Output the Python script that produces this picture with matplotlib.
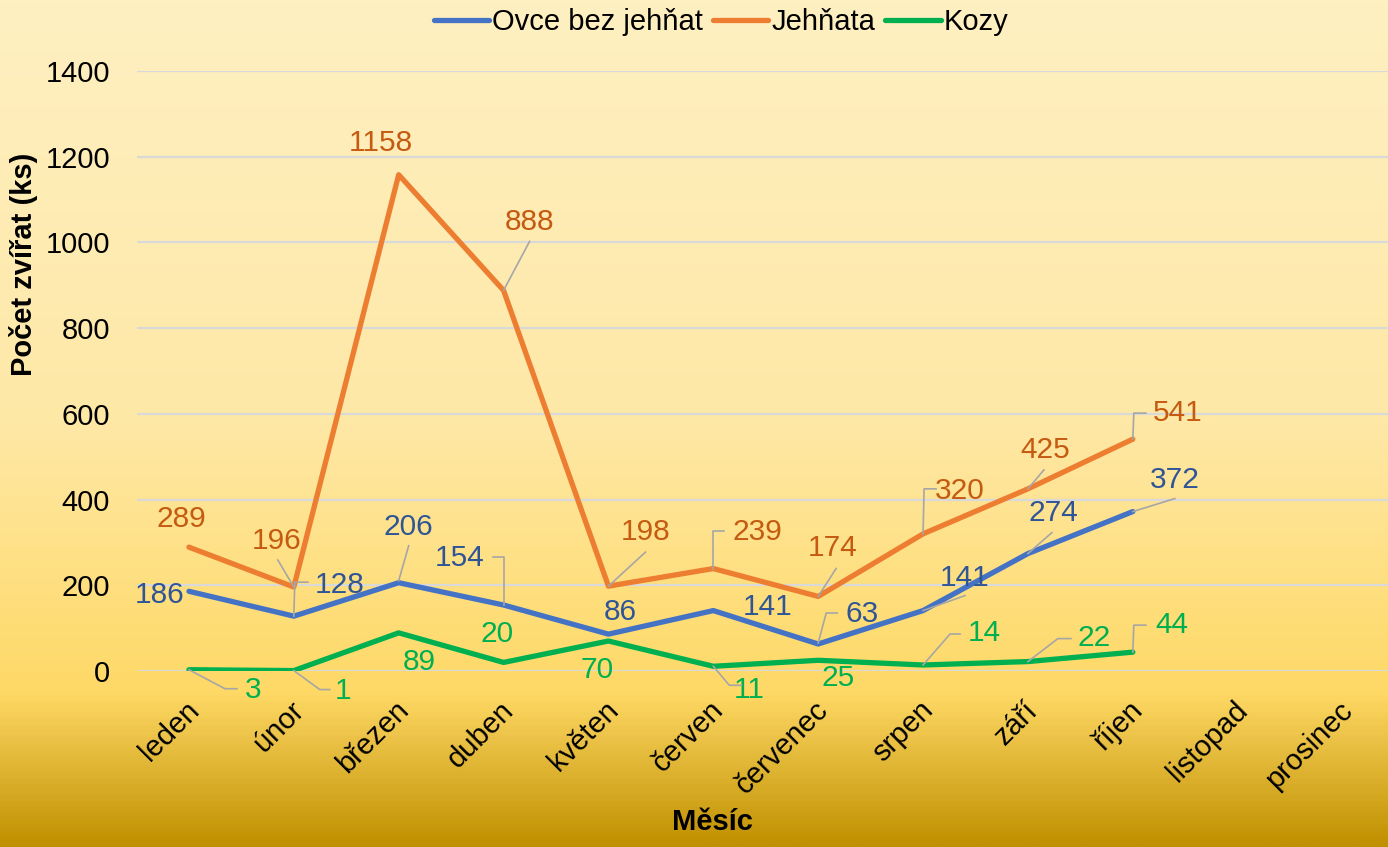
import numpy as np
import matplotlib.pyplot as plt
from matplotlib.colors import LinearSegmentedColormap
from matplotlib.lines import Line2D
from matplotlib.transforms import IdentityTransform, ScaledTranslation

plt.rcParams['font.family'] = ['Liberation Sans', 'DejaVu Sans']

# --- data ---
mesice = ["leden", "únor", "březen", "duben", "květen", "červen",
          "červenec", "srpen", "září", "říjen", "listopad", "prosinec"]
ovce = [186, 128, 206, 154, 86, 141, 63, 141, 274, 372]
jehnata = [289, 196, 1158, 888, 198, 239, 174, 320, 425, 541]
kozy = [3, 1, 89, 20, 70, 11, 25, 14, 22, 44]

# label placement (pixel offsets from the point, image y downward)
ovce_lbl = [(-29, 4), (46, -31), (10, -56), (-44, -47), (12, -22),
            (54, -4), (44, -30), (42, -33), (25, -41), (42, -32)]
ovce_lead = [None, [(0, 0), (1, -34), (14, -34)], [(0, -2), (10, -37)],
             [(0, 0), (0, -48), (-11, -48)], None, None,
             [(0, -1), (8, -31), (19, -31)], [(0, 0), (42, -15)],
             [(0, 0), (24, -21)], [(0, 0), (42, -13)]]
jeh_lbl = [(-8, -28), (-17, -46), (-18, -32), (26, -68), (37, -54),
           (44, -37), (14, -48), (37, -43), (17, -39), (45, -26)]
jeh_lead = [None, [(0, 0), (-16, -27)], None, [(0, 0), (26, -49)],
            [(0, 0), (37, -34)], [(0, 0), (0, -38), (11, -38)],
            [(0, 0), (18, -28)], [(0, 0), (1, -45), (13, -45)],
            [(0, 0), (16, -19)], [(0, 0), (1, -26), (13, -26)]]
koz_lbl = [(64, 20), (49, 20), (21, 29), (-7, -28), (-11, 29),
           (36, 24), (20, 18), (61, -32), (66, -24), (39, -27)]
koz_lead = [[(0, 0), (36, 19), (48, 19)], [(0, 0), (26, 19), (36, 19)],
            None, None, None, [(0, 0), (16, 19), (28, 19)], None,
            [(0, 0), (27, -31), (37, -31)], [(0, 0), (30, -23), (43, -23)],
            [(0, 0), (1, -27), (13, -27)]]

fig = plt.figure(figsize=(13.88, 8.47), dpi=100)

# gradient background
bg = fig.add_axes([0, 0, 1, 1], zorder=-10)
cmap = LinearSegmentedColormap.from_list(
    "gold", [(0, "#FFF0C2"), (0.5, "#FEE8A6"), (0.82, "#FFD966"), (1, "#C09000")])
bg.imshow(np.linspace(0, 1, 400).reshape(-1, 1), aspect='auto', cmap=cmap,
          extent=[0, 1, 0, 1], origin='upper')
bg.axis('off')

ax = fig.add_axes([136.5 / 1388, 176 / 847, 1258.5 / 1388, 600 / 847])
ax.patch.set_alpha(0)
x = np.arange(len(mesice))

series = [
    ("Ovce bez jehňat", ovce, "#4472C4", "#2F5597", ovce_lbl, ovce_lead),
    ("Jehňata", jehnata, "#ED7D31", "#C55A11", jeh_lbl, jeh_lead),
    ("Kozy", kozy, "#00B050", "#00B050", koz_lbl, koz_lead),
]

for name, vals, col, _, _, _ in series:
    ax.plot(x[:len(vals)], vals, color=col, lw=3.8, label=name,
            solid_capstyle='round', solid_joinstyle='round', zorder=3)

ax.set_xlim(-0.5, 11.5)
ax.set_ylim(0, 1400)
ax.set_yticks(range(0, 1401, 200))
ax.set_xticks(x)
ax.set_xticklabels(mesice)
ax.grid(axis='y', color='#D9D9D9', lw=1.6)
ax.set_axisbelow(True)
for s in ax.spines.values():
    s.set_visible(False)
ax.tick_params(axis='both', length=0, labelsize=21)
ax.tick_params(axis='y', pad=19)
ax.tick_params(axis='x', pad=25)
shift = ScaledTranslation(6 / 100, 0, fig.dpi_scale_trans)
for lab in ax.get_xticklabels():
    lab.set_rotation(45)
    lab.set_ha('right')
    lab.set_va('center')
    lab.set_rotation_mode('anchor')
    lab.set_transform(lab.get_transform() + shift)

# data labels and leader lines
fig.canvas.draw()
for name, vals, col, tcol, lbls, leads in series:
    for i, v in enumerate(vals):
        dx, dy = lbls[i]
        ax.annotate(str(v), (x[i], v), xytext=(dx, -dy), textcoords='offset pixels',
                    ha='center', va='center', fontsize=21.5, color=tcol, zorder=5,
                    annotation_clip=False)
        if leads[i]:
            px, py = ax.transData.transform((x[i], v))
            vx = [px + a for a, b in leads[i]]
            vy = [py - b for a, b in leads[i]]
            fig.add_artist(Line2D(vx, vy, transform=IdentityTransform(),
                                  color='#A6A6A6', lw=1.2, zorder=4))

fig.text(712 / 1388, 1 - 822 / 847, "Měsíc", ha='center', va='center',
         fontsize=21, fontweight='bold')
fig.text(24 / 1388, 1 - 264 / 847, "Počet zvířat (ks)", ha='center', va='center',
         rotation=90, fontsize=21, fontweight='bold')

handles, labels = ax.get_legend_handles_labels()
fig.legend(handles, labels, loc='center', bbox_to_anchor=(721 / 1388, 1 - 22 / 847),
           ncol=3, frameon=False, fontsize=21, handlelength=1.9,
           handletextpad=0.1, columnspacing=0.35, borderaxespad=0)

fig.savefig("out.png", dpi=100)
